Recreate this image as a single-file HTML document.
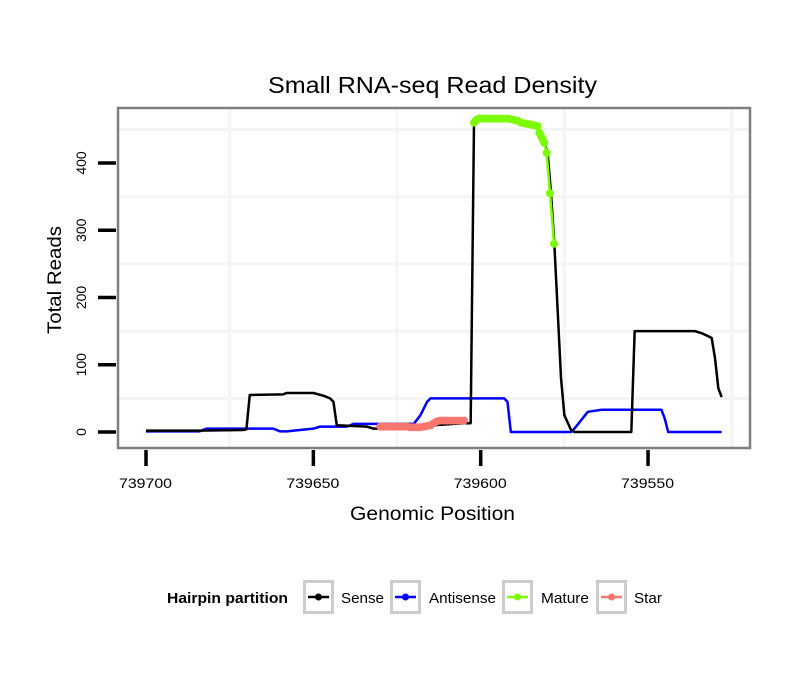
<!DOCTYPE html>
<html><head><meta charset="utf-8"><style>
body{margin:0;background:#fff;}
svg text{font-family:"Liberation Sans",sans-serif;}
</style></head><body>
<svg id="chart" width="810" height="690" xmlns="http://www.w3.org/2000/svg">
<rect width="810" height="690" fill="#fff"/>
<text x="268" y="93" font-size="23" textLength="329" lengthAdjust="spacingAndGlyphs">Small RNA-seq Read Density</text>
<g id="grid"></g>
<g id="series"></g>
<rect x="118" y="108" width="632" height="340" fill="none" stroke="#7f7f7f" stroke-width="2.5"/>
<g id="axes"></g>
<text x="350" y="520" font-size="19" textLength="165" lengthAdjust="spacingAndGlyphs">Genomic Position</text>
<text transform="translate(61,334) rotate(-90)" font-size="19" textLength="108" lengthAdjust="spacingAndGlyphs">Total Reads</text>
<g>
<text x="167" y="603" font-size="15" font-weight="bold" textLength="121" lengthAdjust="spacingAndGlyphs">Hairpin partition</text>
<g id="legend"></g>
</g>
</svg>
<script>
const xTicks=[739700,739650,739600,739550];
const yTicks=[0,100,200,300,400];
const senseX=[739700,739684,739671,739670,739669,739659,739658,739650,739647,739645,739644,739643,739634,739632,739630,739605,739603,739602,739601,739592,739588,739585,739583,739582,739581,739580,739579,739578,739576,739575,739573,739572,739559,739555,739554,739536,739534,739531,739530,739529,739528];
const senseY=[2,2,3,4,55,56,58,58,54,50,45,10,8,5,5,13,13,460,465,466,462,457,455,440,430,415,355,280,80,25,3,0,0,0,150,150,147,140,110,65,52];
const antiX=[739700,739684,739682,739662,739660,739658,739650,739648,739640,739638,739620,739618,739616,739615,739593,739592,739591,739573,739572,739568,739564,739546,739545,739544,739528];
const antiY=[1,1,5,5,1,1,5,8,8,12,12,25,45,50,50,45,0,0,5,30,33,33,20,0,0];
const matureX=[739602,739601.5,739601,739600.5,739600,739599,739598,739597,739596,739595,739594,739593,739592,739591,739590,739589,739588,739587,739586,739585,739584,739583,739582.5,739582,739581.5,739581,739580.3,739579.3,739578.1];
const matureY=[460,463,465,466,466,466,466,466,466,466,466,466,466,465,464,463,460,459,458,457,456,455,445,440,435,430,415,355,280];
const starX=[739630,739629,739628,739627,739626,739625,739624,739623,739622,739621,739620,739619,739618,739617,739616,739615,739614,739613,739612,739611,739610,739609,739608,739607,739606,739605];
const starY=[8,8,8,8,8,8,8,8,8,7,7,7,7,8,9,10,13,16,17,17,17,17,17,17,17,17];
const NS='http://www.w3.org/2000/svg';
const sx=p=>146+(739700-p)*3.347;
const sy=v=>432-v*0.6725;
function mk(tag,attrs,parent){const e=document.createElementNS(NS,tag);for(const k in attrs)e.setAttribute(k,attrs[k]);document.getElementById(parent).appendChild(e);return e;}
for(let i=0;i<xTicks.length;i++){
  const g=mk('line',{x1:sx(xTicks[i]-25),x2:sx(xTicks[i]-25),y1:109,y2:447,stroke:'#f4f4f4','stroke-width':3},'grid');
  
  
}
for(let i=0;i<yTicks.length;i++){
  const g=mk('line',{x1:119,x2:749,y1:sy(yTicks[i]+50),y2:sy(yTicks[i]+50),stroke:'#f4f4f4','stroke-width':3},'grid');
  
  
}
xTicks.forEach(t=>{
  const l=mk('line',{x1:sx(t),x2:sx(t),y1:450,y2:466,stroke:'#000','stroke-width':3.5},'axes');
  
  
  const tx=mk('text',{x:sx(t)-27,y:488,'font-size':14,textLength:53,lengthAdjust:'spacingAndGlyphs'},'axes');tx.textContent=t;
  
  
});
yTicks.forEach(t=>{
  const l=mk('line',{x1:98,x2:116,y1:sy(t),y2:sy(t),stroke:'#000','stroke-width':3.5},'axes');
  
  
  const tx=mk('text',{transform:`translate(86,${sy(t)}) rotate(-90)`,'font-size':14,'text-anchor':'middle'},'axes');tx.textContent=t;
  
  
});
function line(xs,ys,color,name,w){
  const p=mk('polyline',{points:xs.map((x,i)=>sx(x)+','+sy(ys[i])).join(' '),fill:'none',stroke:color,'stroke-width':w,'stroke-linejoin':'round'},'series');
  
  
}
function pts(xs,ys,color,name){
  line(xs,ys,color,name+'-line',2.5);
  xs.forEach((x,i)=>{
    const c=mk('circle',{cx:sx(x),cy:sy(ys[i]),r:4,fill:color},'series');
    
    
  });
}
line(antiX,antiY,'#0000ff','antisense-line',2.5);
line(senseX,senseY,'#000000','sense-line',2.5);
pts(starX,starY,'#f8766d','star');
pts(matureX,matureY,'#7cfc00','mature');
const leg=[['Sense','#000',303,341,43],['Antisense','#0000ff',390,429,67],['Mature','#7cfc00',502,541,48],['Star','#f8766d',596,634,28]];
leg.forEach(([lab,col,bx,tx,tw])=>{
  const r=mk('rect',{x:bx+1.5,y:581.5,width:28,height:31,fill:'#fff',stroke:'#cccccc','stroke-width':3},'legend');
  
  
  const l=mk('line',{x1:bx+5,x2:bx+26,y1:597,y2:597,stroke:col,'stroke-width':2.5},'legend');
  
  
  const c=mk('circle',{cx:bx+15.5,cy:597,r:3.5,fill:col},'legend');
  
  
  const t=mk('text',{x:tx,y:603,'font-size':15,textLength:tw,lengthAdjust:'spacingAndGlyphs'},'legend');t.textContent=lab;
  
  
});
</script>
</body></html>
